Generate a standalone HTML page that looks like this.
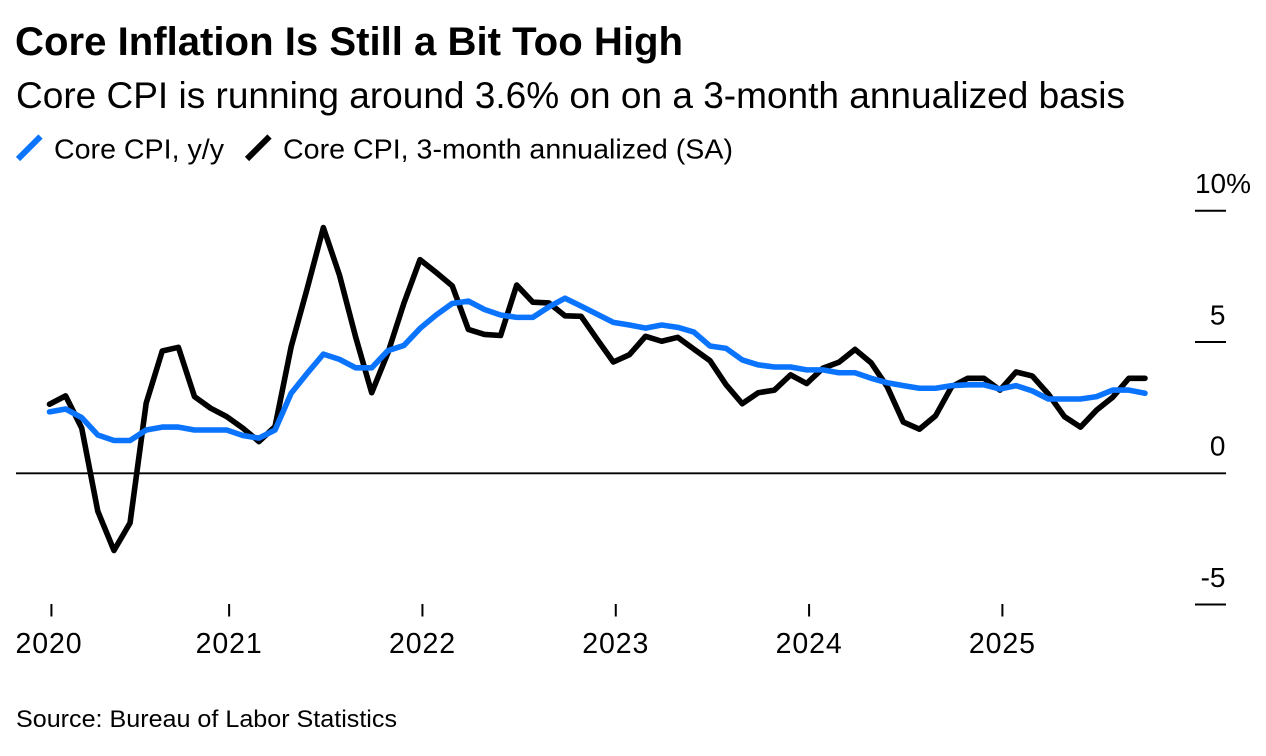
<!DOCTYPE html>
<html lang="en">
<head>
<meta charset="utf-8">
<title>Core Inflation Is Still a Bit Too High</title>
<style>
html,body{margin:0;padding:0;background:#fff;width:1266px;height:756px;overflow:hidden}
svg{display:block}
text{font-family:"Liberation Sans",sans-serif;fill:#000}
</style>
</head>
<body>
<svg id="chart" xmlns="http://www.w3.org/2000/svg" width="1266" height="756" viewBox="0 0 1266 756">
  <rect x="0" y="0" width="1266" height="756" fill="#fff"/>
  <text x="15" y="55" font-size="40" font-weight="700" textLength="668" lengthAdjust="spacingAndGlyphs">Core Inflation Is Still a Bit Too High</text>
  <text x="16" y="108" font-size="37" textLength="1109" lengthAdjust="spacingAndGlyphs">Core CPI is running around 3.6% on on a 3-month annualized basis</text>
  <g>
    <line x1="18" y1="159" x2="40.5" y2="136.5" stroke="#0a74ff" stroke-width="6"/>
    <text x="54" y="158.5" font-size="28" textLength="170" lengthAdjust="spacingAndGlyphs">Core CPI, y/y</text>
    <line x1="247" y1="159" x2="269.5" y2="136.5" stroke="#000" stroke-width="6"/>
    <text x="283" y="158.5" font-size="28" textLength="450" lengthAdjust="spacingAndGlyphs">Core CPI, 3-month annualized (SA)</text>
  </g>
  <g id="y-axis"></g>
  <g id="x-axis"></g>
  <g id="series"></g>
  <text x="16" y="727" font-size="24" textLength="381" lengthAdjust="spacingAndGlyphs">Source: Bureau of Labor Statistics</text>
</svg>
<script>
const months = [
  "2020-01","2020-02","2020-03","2020-04","2020-05","2020-06","2020-07","2020-08","2020-09","2020-10","2020-11","2020-12",
  "2021-01","2021-02","2021-03","2021-04","2021-05","2021-06","2021-07","2021-08","2021-09","2021-10","2021-11","2021-12",
  "2022-01","2022-02","2022-03","2022-04","2022-05","2022-06","2022-07","2022-08","2022-09","2022-10","2022-11","2022-12",
  "2023-01","2023-02","2023-03","2023-04","2023-05","2023-06","2023-07","2023-08","2023-09","2023-10","2023-11","2023-12",
  "2024-01","2024-02","2024-03","2024-04","2024-05","2024-06","2024-07","2024-08","2024-09","2024-10","2024-11","2024-12",
  "2025-01","2025-02","2025-03","2025-04","2025-05","2025-06","2025-07","2025-08","2025-09"
];
const coreAnnualized = [
  2.63,2.95,1.72,-1.45,-2.94,-1.89,2.67,4.66,4.80,2.92,
  2.48,2.16,1.72,1.21,1.78,4.82,7.05,9.36,7.55,5.20,
  3.07,4.58,6.48,8.14,7.65,7.14,5.48,5.29,5.25,7.17,
  6.52,6.49,6.00,5.98,5.10,4.24,4.52,5.22,5.03,5.18,
  4.73,4.29,3.37,2.65,3.07,3.17,3.75,3.42,4.00,4.23,
  4.72,4.21,3.30,1.95,1.68,2.19,3.30,3.62,3.62,3.17,
  3.86,3.71,3.02,2.16,1.76,2.41,2.90,3.62,3.62
];
const coreYoY = [
  2.34,2.45,2.12,1.46,1.25,1.25,1.65,1.76,1.76,1.65,
  1.65,1.65,1.44,1.34,1.65,3.05,3.81,4.54,4.34,4.02,
  4.02,4.67,4.87,5.52,6.03,6.47,6.56,6.24,6.03,5.94,
  5.94,6.34,6.67,6.37,6.06,5.75,5.65,5.53,5.65,5.56,
  5.38,4.85,4.76,4.32,4.13,4.05,4.05,3.94,3.94,3.83,
  3.83,3.62,3.45,3.34,3.24,3.24,3.34,3.37,3.37,3.21,
  3.34,3.14,2.83,2.83,2.83,2.92,3.17,3.17,3.05
];
const yTicks = [10, 5, 0, -5];
const yTickLabels = ["10%", "5", "0", "-5"];
const xTickYears = [2020, 2021, 2022, 2023, 2024, 2025];

const NS = "http://www.w3.org/2000/svg";
function xScale(i) { return 49.5 + 16.11 * i; }
function yScale(v) { return 473.3 - 26.25 * v; }
function yearToIndex(year) { return Math.max(0.12, (year - 2020) * 12 - 0.85); }
function make(tag, attrs, parent) {
  const el = document.createElementNS(NS, tag);
  for (const k in attrs) el.setAttribute(k, attrs[k]);
  parent.appendChild(el);
  return el;
}

const yAxis = document.getElementById("y-axis");
yTicks.forEach(function (t, i) {
  const y = yScale(t);
  const isZero = t === 0;
  const line = make("line", { x1: isZero ? 16 : 1195, x2: 1226, y1: y, y2: y, stroke: "#000", "stroke-width": isZero ? 1.8 : 2 }, yAxis);
  
  
  const label = make("text", { y: y - 17.6, "font-size": 28 }, yAxis);
  
  
  if (i === 0) {
    label.setAttribute("x", 1195);
    label.setAttribute("textLength", 56);
    label.setAttribute("lengthAdjust", "spacingAndGlyphs");
  } else {
    label.setAttribute("x", 1225.5);
    label.setAttribute("text-anchor", "end");
  }
  label.textContent = yTickLabels[i];
});

const xAxis = document.getElementById("x-axis");
xTickYears.forEach(function (year, i) {
  const x = xScale(yearToIndex(year));
  const tick = make("line", { x1: x, x2: x, y1: 604, y2: 616.5, stroke: "#000", "stroke-width": 2 }, xAxis);
  
  
  const label = make("text", { x: i === 0 ? 15.5 : x, y: 653, "font-size": 28.5, "text-anchor": i === 0 ? "start" : "middle", "letter-spacing": "0.9" }, xAxis);
  
  
  label.textContent = String(year);
});

function pathFor(values) {
  return values.map(function (v, i) {
    return (i ? "L" : "M") + xScale(i).toFixed(2) + " " + yScale(v).toFixed(2);
  }).join(" ");
}
const seriesGroup = document.getElementById("series");
const annualizedLine = make("path", { d: pathFor(coreAnnualized), fill: "none", stroke: "#000", "stroke-width": 5.6, "stroke-linejoin": "round", "stroke-linecap": "round" }, seriesGroup);


const yoyLine = make("path", { d: pathFor(coreYoY), fill: "none", stroke: "#0a74ff", "stroke-width": 5.6, "stroke-linejoin": "round", "stroke-linecap": "round" }, seriesGroup);


</script>
</body>
</html>
